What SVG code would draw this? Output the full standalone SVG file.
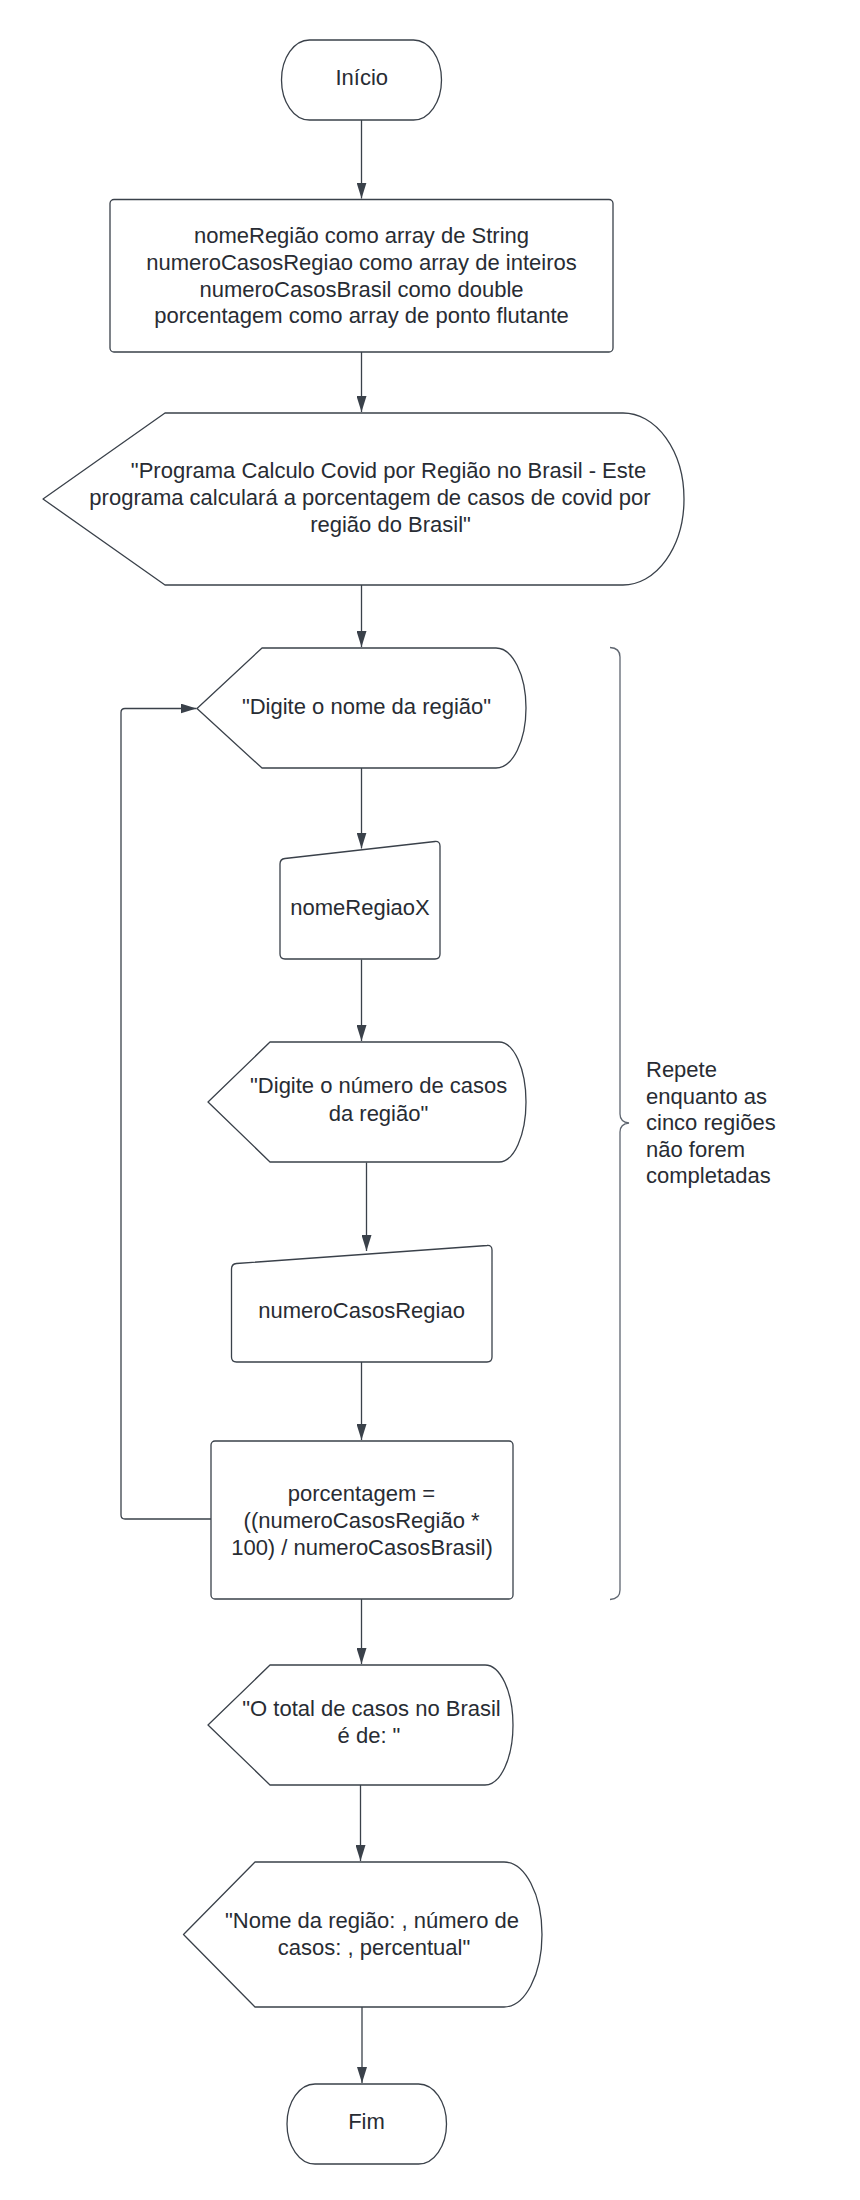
<svg xmlns="http://www.w3.org/2000/svg" width="860" height="2200" viewBox="0 0 860 2200">
<style>
.s{fill:#ffffff;stroke:#3a414a;stroke-width:1.3;stroke-linejoin:round}
.t{font-family:"Liberation Sans",Arial,sans-serif;font-size:22px;fill:#282c33;text-anchor:middle}
.l{text-anchor:start}
.c{fill:none;stroke:#3a414a;stroke-width:1.3;marker-end:url(#arr)}
.b{fill:none;stroke:#5f6670;stroke-width:1.3}
</style>
<defs>
<marker id="arr" viewBox="0 0 16 10" refX="16" refY="5" markerWidth="16" markerHeight="10" orient="auto" markerUnits="userSpaceOnUse">
<path d="M0,0 L16,5 L0,10 z" fill="#3a414a"/>
</marker>
</defs>
<rect width="860" height="2200" fill="#ffffff"/>
<g id="connectors">
<path class="c" d="M361.5,120 L361.5,198.5"/>
<path class="c" d="M361.5,352 L361.5,412"/>
<path class="c" d="M361.5,585 L361.5,647"/>
<path class="c" d="M361.5,768 L361.5,848.5"/>
<path class="c" d="M361.5,959.5 L361.5,1041"/>
<path class="c" d="M366.5,1162.5 L366.5,1251"/>
<path class="c" d="M361.5,1362 L361.5,1440"/>
<path class="c" d="M361.5,1599 L361.5,1664"/>
<path class="c" d="M360.5,1785 L360.5,1861"/>
<path class="c" d="M362,2007 L362,2083"/>
<path class="c" d="M211,1519 L125,1519 Q121,1519 121,1515 L121,712.5 Q121,708.5 125,708.5 L196.5,708.5"/>
</g>
<g id="inicio">
<rect class="s" x="281.5" y="40" width="160" height="80" rx="28" ry="40"/>
<text class="t" x="361.8" y="85">Início</text>
</g>
<g id="declaracoes">
<rect class="s" x="110" y="199.5" width="503" height="152.5" rx="4"/>
<text class="t" x="361.5" y="243">nomeRegião como array de String</text>
<text class="t" x="361.5" y="270">numeroCasosRegiao como array de inteiros</text>
<text class="t" x="361.5" y="296.5">numeroCasosBrasil como double</text>
<text class="t" x="361.5" y="323">porcentagem como array de ponto flutante</text>
</g>
<g id="apresentacao">
<path class="s" d="M43,499 L165,413 L623,413 A61,86 0 0 1 684,499 A61,86 0 0 1 623,585 L165,585 Z"/>
<text class="t" x="388.5" y="478">"Programa Calculo Covid por Região no Brasil - Este</text>
<text class="t" x="370" y="505">programa calculará a porcentagem de casos de covid por</text>
<text class="t" x="390.5" y="532">região do Brasil"</text>
</g>
<g id="digite-nome">
<path class="s" d="M197,708.5 L262,648 L496,648 A30,60 0 0 1 526,708 A30,60 0 0 1 496,768 L262,768 Z"/>
<text class="t" x="366.5" y="713.5">"Digite o nome da região"</text>
</g>
<g id="nome-regiao-x">
<path class="s" d="M285,858.5 L435,841.5 Q440,841 440,846 L440,954 Q440,959 435,959 L285,959 Q280,959 280,954 L280,864 Q280,859 285,858.5 Z"/>
<text class="t" x="360" y="915">nomeRegiaoX</text>
</g>
<g id="digite-casos">
<path class="s" d="M208,1102 L270,1042 L499,1042 A27,60 0 0 1 526,1102 A27,60 0 0 1 499,1162 L270,1162 Z"/>
<text class="t" x="378.7" y="1093">"Digite o número de casos</text>
<text class="t" x="378.5" y="1121">da região"</text>
</g>
<g id="numero-casos-regiao">
<path class="s" d="M236.5,1263.5 L487,1245.5 Q492,1245 492,1250 L492,1357 Q492,1362 487,1362 L236.5,1362 Q231.5,1362 231.5,1357 L231.5,1269 Q231.5,1264 236.5,1263.5 Z"/>
<text class="t" x="361.6" y="1318">numeroCasosRegiao</text>
</g>
<g id="calculo">
<rect class="s" x="211" y="1441" width="302" height="158" rx="4"/>
<text class="t" x="361.5" y="1501">porcentagem =</text>
<text class="t" x="361.6" y="1528">((numeroCasosRegião *</text>
<text class="t" x="362" y="1555">100) / numeroCasosBrasil)</text>
</g>
<g id="repeticao">
<path class="b" d="M610,647.5 Q620,648 620,657 L620,1114 Q620,1122 629,1123 Q620,1124 620,1132 L620,1590 Q620,1599 610,1599.5"/>
<text class="t l" x="646" y="1077">Repete</text>
<text class="t l" x="646" y="1103.5">enquanto as</text>
<text class="t l" x="646" y="1130">cinco regiões</text>
<text class="t l" x="646" y="1156.5">não forem</text>
<text class="t l" x="646" y="1183">completadas</text>
</g>
<g id="total-casos">
<path class="s" d="M208,1725 L270,1665 L485,1665 A28,60 0 0 1 513,1725 A28,60 0 0 1 485,1785 L270,1785 Z"/>
<text class="t" x="371.5" y="1716">"O total de casos no Brasil</text>
<text class="t" x="369" y="1743">é de: "</text>
</g>
<g id="resultado">
<path class="s" d="M183.5,1934.5 L255,1862 L504,1862 A38,72.5 0 0 1 542,1934.5 A38,72.5 0 0 1 504,2007 L255,2007 Z"/>
<text class="t" x="372" y="1928">"Nome da região: , número de</text>
<text class="t" x="374" y="1955">casos: , percentual"</text>
</g>
<g id="fim">
<rect class="s" x="287" y="2084" width="159.5" height="80" rx="28" ry="40"/>
<text class="t" x="366.5" y="2129">Fim</text>
</g>
</svg>
